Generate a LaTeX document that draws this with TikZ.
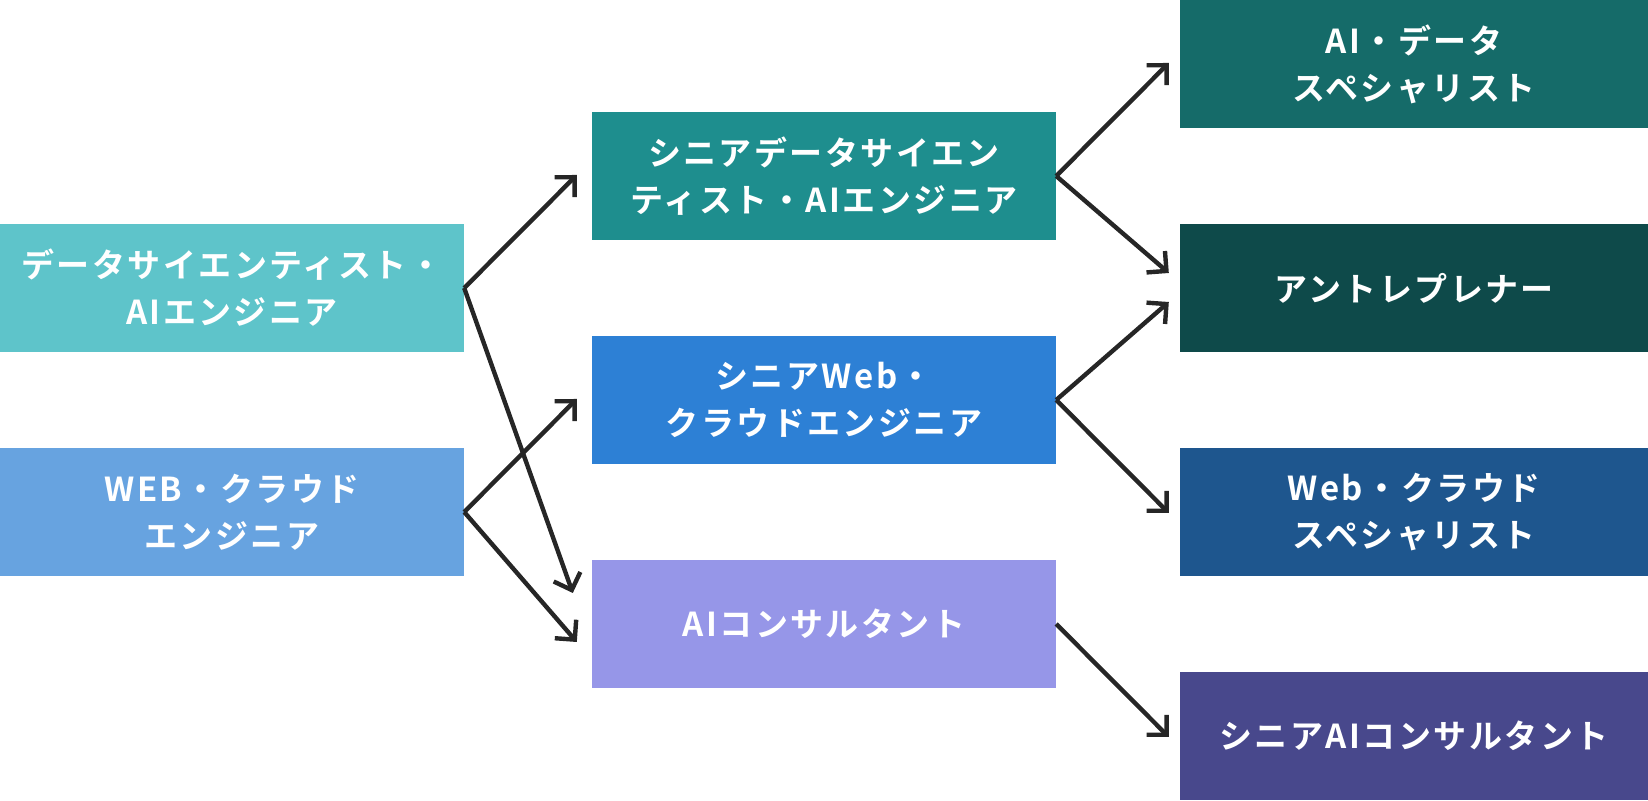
\documentclass[tikz,border=0pt]{standalone}
\usepackage{fontspec}
\newfontfamily\jpfont[LetterSpace=7.5]{Noto Sans CJK JP Bold}
\usetikzlibrary{arrows.meta,calc}
\definecolor{cL1}{HTML}{5EC4CA}
\definecolor{cL2}{HTML}{67A3E0}
\definecolor{cM1}{HTML}{1E8E8E}
\definecolor{cM2}{HTML}{2D80D5}
\definecolor{cM3}{HTML}{9696E8}
\definecolor{cR1}{HTML}{156B69}
\definecolor{cR2}{HTML}{0E4A4A}
\definecolor{cR3}{HTML}{1E568E}
\definecolor{cR4}{HTML}{48488C}
\definecolor{arr}{HTML}{262626}
\tikzset{
  box/.style={rectangle, inner sep=0pt, minimum height=128pt, align=center, text=white,
    font=\jpfont\fontsize{33}{47}\selectfont},
  lbox/.style={box, minimum width=464pt},
  rbox/.style={box, minimum width=468pt},
  conn/.style={draw=arr, line width=4.4pt, -{Straight Barb[angle=90:20pt, line width=4.4pt]}}
}
\begin{document}
\begin{tikzpicture}[x=1pt,y=1pt]
\useasboundingbox (0,0) rectangle (1648,800);
\node[lbox, fill=cL1] (l1) at (232,512) {データサイエンティスト・\\AIエンジニア};
\node[lbox, fill=cL2] (l2) at (232,288) {WEB・クラウド\\エンジニア};
\node[lbox, fill=cM1] (m1) at (824,624) {シニアデータサイエン\\ティスト・AIエンジニア};
\node[lbox, fill=cM2] (m2) at (824,400) {シニアWeb・\\クラウドエンジニア};
\node[lbox, fill=cM3] (m3) at (824,176) {AIコンサルタント};
\node[rbox, fill=cR1] (r1) at (1414,736) {AI・データ\\スペシャリスト};
\node[rbox, fill=cR2] (r2) at (1414,512) {アントレプレナー};
\node[rbox, fill=cR3] (r3) at (1414,288) {Web・クラウド\\スペシャリスト};
\node[rbox, fill=cR4] (r4) at (1414,64) {シニアAIコンサルタント};
\coordinate (t1) at ($(m1.west)+(-15,1)$);
\coordinate (t2) at ($(m3.west)+(-19,31)$);
\coordinate (t3) at ($(m2.west)+(-15,1)$);
\coordinate (t4) at ($(m3.west)+(-15,-18)$);
\coordinate (t5) at ($(r1.west)+(-11,1)$);
\coordinate (t6) at ($(r2.west)+(-11,15)$);
\coordinate (t7) at ($(r2.west)+(-11,-14)$);
\coordinate (t8) at ($(r3.west)+(-11,-1)$);
\coordinate (t9) at ($(r4.west)+(-11,-1)$);
\draw[conn] (l1.east) -- (t1);
\draw[conn] (l1.east) -- (t2);
\draw[conn] (l2.east) -- (t3);
\draw[conn] (l2.east) -- (t4);
\draw[conn] (m1.east) -- (t5);
\draw[conn] (m1.east) -- (t6);
\draw[conn] (m2.east) -- (t7);
\draw[conn] (m2.east) -- (t8);
\draw[conn] (m3.east) -- (t9);
\end{tikzpicture}
\end{document}
